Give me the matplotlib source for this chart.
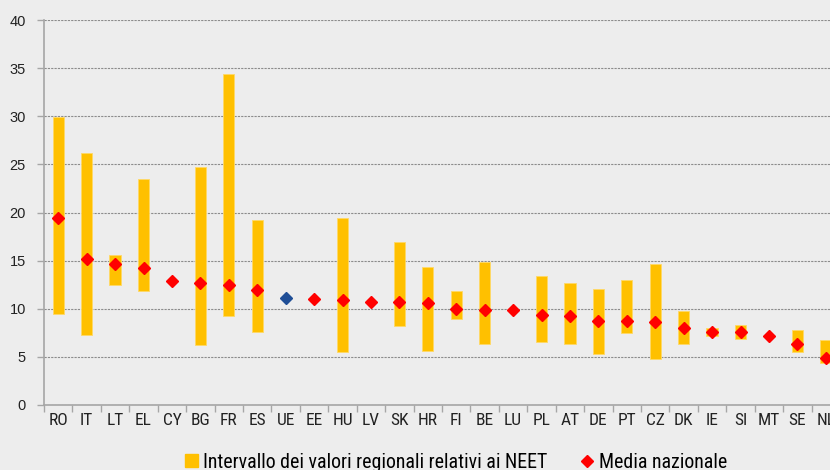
import numpy as np
import matplotlib
matplotlib.use("Agg")
import matplotlib.pyplot as plt
from matplotlib.lines import Line2D
from matplotlib.patches import Patch

narrow = ["Roboto Condensed", "Liberation Sans", "DejaVu Sans"]

countries = ["RO", "IT", "LT", "EL", "CY", "BG", "FR", "ES", "UE", "EE", "HU", "LV", "SK", "HR",
             "FI", "BE", "LU", "PL", "AT", "DE", "PT", "CZ", "DK", "IE", "SI", "MT", "SE", "NL"]
reg_min = [9.5, 7.3, 12.5, 11.8, np.nan, 6.2, 9.2, 7.6, np.nan, np.nan, 5.5, np.nan, 8.2, 5.6,
           8.9, 6.3, np.nan, 6.5, 6.3, 5.3, 7.5, 4.8, 6.3, 7.2, 6.9, np.nan, 5.5, 4.4]
reg_max = [29.9, 26.2, 15.6, 23.5, np.nan, 24.7, 34.4, 19.2, np.nan, np.nan, 19.4, np.nan, 16.9, 14.3,
           11.8, 14.9, np.nan, 13.4, 12.7, 12.1, 13.0, 14.7, 9.8, 8.0, 8.3, np.nan, 7.8, 6.8]
national = [19.4, 15.2, 14.7, 14.2, 12.9, 12.7, 12.5, 12.0, 11.1, 11.0, 10.9, 10.7, 10.7, 10.6,
            10.0, 9.9, 9.9, 9.4, 9.2, 8.7, 8.7, 8.6, 8.0, 7.6, 7.6, 7.2, 6.3, 4.9]
yticks = [0, 5, 10, 15, 20, 25, 30, 35, 40]

bg = "#EDEDED"
bar_col = "#FFC000"
red = "#FF0000"
blue = "#1F4E96"

fig = plt.figure(figsize=(8.3, 4.7), dpi=100, facecolor=bg)
ax = fig.add_axes([44/830, 1-405/470, 796/830, 385/470])
ax.set_facecolor(bg)

x = np.arange(len(countries))
lo = np.array(reg_min, dtype=float)
hi = np.array(reg_max, dtype=float)
ax.bar(x, hi - lo, bottom=lo, width=0.4, color=bar_col, edgecolor="#FFD966", linewidth=0.6, zorder=2)

cols = [blue if c == "UE" else red for c in countries]
for xi, v, c in zip(x, national, cols):
    ax.plot(xi, v, marker="D", color=c, markersize=6.3, linestyle="none", zorder=3)

ax.set_xlim(-0.5, len(countries) - 0.5)
ax.set_ylim(0, 40)
ax.set_yticks(yticks)
ax.set_yticklabels([str(t) for t in yticks], fontsize=10.5, family="Liberation Sans", color="#222222")
ax.yaxis.grid(True, color="#8C8C8C", linestyle=(0, (2, 1)), linewidth=0.8, zorder=0)
ax.set_axisbelow(True)

ax.set_xticks(x)
ax.set_xticklabels(countries, fontsize=12.5, family=narrow, color="#222222")
ax.set_xticks(np.arange(len(countries) + 1) - 0.5, minor=True)
ax.tick_params(axis="x", which="major", length=0, pad=6)
ax.tick_params(axis="x", which="minor", length=5, color="#A6A6A6", width=1)
ax.tick_params(axis="y", length=5, color="#A6A6A6", width=1, pad=8)

for s in ["top", "right"]:
    ax.spines[s].set_visible(False)
for s in ["left", "bottom"]:
    ax.spines[s].set_color("#A6A6A6")
    ax.spines[s].set_linewidth(1.2)

handles = [Patch(facecolor=bar_col, edgecolor=bar_col),
           Line2D([], [], marker="D", color=red, linestyle="none", markersize=6)]
labels = ["Intervallo dei valori regionali relativi ai NEET", "Media nazionale"]
fig.legend(handles, labels, loc="center", bbox_to_anchor=(456/830, 1-462/470), ncol=2,
           frameon=False, prop={"family": narrow, "size": 14.3}, columnspacing=1.7,
           handlelength=0.65, handleheight=0.65, handletextpad=0.25, borderpad=0)

fig.savefig("out.png", dpi=100, facecolor=bg)
